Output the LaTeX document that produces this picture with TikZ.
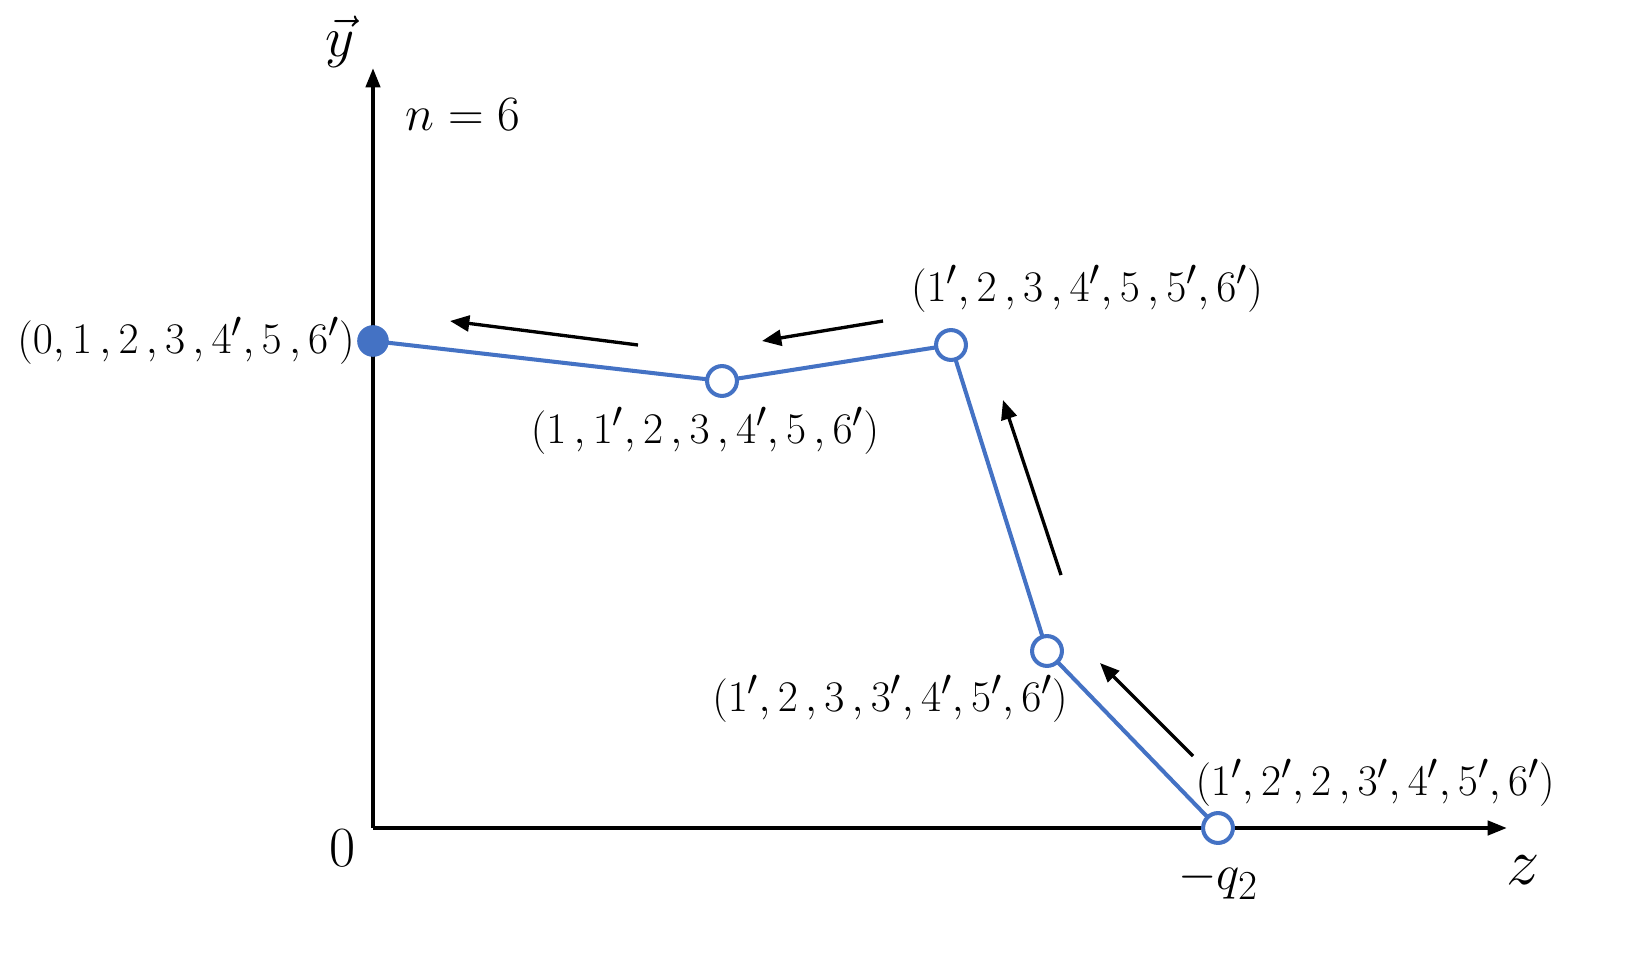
\documentclass[tikz,border=0pt]{standalone}
\usetikzlibrary{arrows.meta}
\definecolor{lblue}{HTML}{4472C4}
\begin{document}
\begin{tikzpicture}[x=0.02cm,y=-0.02cm,
  axis/.style={line width=2.3pt,-{Triangle[length=11pt,width=8pt]}},
  curve/.style={lblue,line width=2.3pt},
  hollow/.style={circle,draw=lblue,fill=white,line width=2.3pt,minimum size=17pt,inner sep=0pt},
  solid/.style={circle,fill=lblue,minimum size=18pt,inner sep=0pt},
  move/.style={line width=1.9pt,-{Triangle[length=11pt,width=9pt]}},
  lbl/.style={font=\fontsize{24.88}{29}\selectfont,inner sep=0pt},
  big/.style={font=\fontsize{24.88}{29}\selectfont,inner sep=0pt,scale=1.13}]
\useasboundingbox (0,0) rectangle (1646,960);
\coordinate (O) at (373,828);
\coordinate (ytip) at (373,68);
\coordinate (xtip) at (1507,828);
\draw[axis] (O) -- (ytip);
\draw[axis] (O) -- (xtip);
\coordinate (p0) at (373,341);
\coordinate (p1) at (722,381);
\coordinate (p2) at (951,345);
\coordinate (p3) at (1047,651);
\coordinate (p4) at (1218,828);
\draw[curve] (p0) -- (p1) -- (p2) -- (p3) -- (p4);
\node[solid] (n0) at (p0) {};
\node[hollow] (n1) at (p1) {};
\node[hollow] (n2) at (p2) {};
\node[hollow] (n3) at (p3) {};
\node[hollow] (n4) at (p4) {};
\node[lbl] (l0) at (186,341) {$(0, 1\,, 2\,, 3\,, 4', 5\,, 6')$};
\node[lbl] (l1) at (705,431) {$(1\,, 1', 2\,, 3\,, 4', 5\,, 6')$};
\node[lbl] (l2) at (1087,289) {$(1', 2\,, 3\,, 4', 5\,, 5', 6')$};
\node[lbl] (l3) at (890,699) {$(1', 2\,, 3\,, 3', 4', 5', 6')$};
\node[lbl] (l4) at (1375,783) {$(1', 2', 2\,, 3', 4', 5', 6')$};
\node[big,scale=1.15] (ylab) at (340,42) {$\vec{y}$};
\node[big] (nlab) at (463,115) {$n=6$};
\node[big,scale=1.15] (zero) at (343,848) {$0$};
\node[big] (q2) at (1218,880) {$-q_2$};
\node[big,scale=1.35] (zlab) at (1523,870) {$z$};
\coordinate (a1s) at (638,345); \coordinate (a1e) at (450,321);
\coordinate (a2s) at (883,321); \coordinate (a2e) at (762,341);
\coordinate (a3s) at (1061,575); \coordinate (a3e) at (1003,400);
\coordinate (a4s) at (1193,756); \coordinate (a4e) at (1100,663);
\draw[move] (a1s) -- (a1e);
\draw[move] (a2s) -- (a2e);
\draw[move] (a3s) -- (a3e);
\draw[move] (a4s) -- (a4e);
\end{tikzpicture}
\end{document}
